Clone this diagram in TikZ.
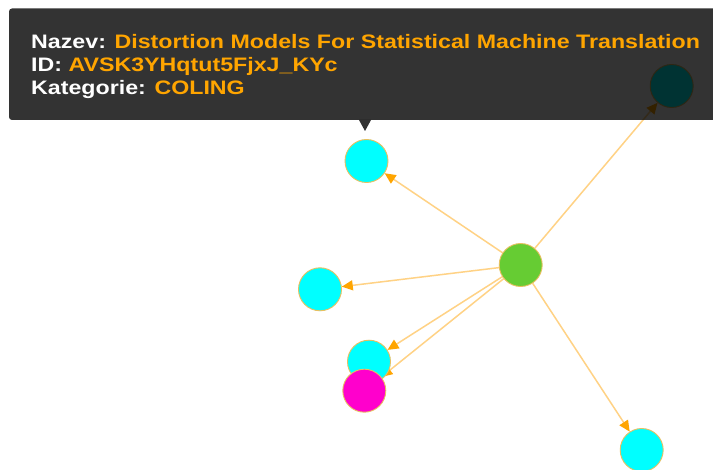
\documentclass[tikz,border=0pt]{standalone}
\usepackage{fontspec}
\setmainfont{Liberation Sans}
\usepackage{graphicx}
\usetikzlibrary{arrows.meta}
\pgfdeclarelayer{background}
\pgfsetlayers{background,main}
\definecolor{edgeline}{HTML}{FFD285}
\definecolor{tipfill}{HTML}{FFA500}
\definecolor{rim}{HTML}{E8C060}
\definecolor{nodecyan}{HTML}{00FFFF}
\definecolor{nodegreen}{HTML}{66CC33}
\definecolor{nodepink}{HTML}{FF00CC}
% widened bold line for the tooltip
\newcommand{\tipline}[1]{\scalebox{1.19}[1]{#1}}
\begin{document}
\begin{tikzpicture}[x=1pt,y=-1pt,
  paper/.style={circle, minimum size=43pt, inner sep=0pt, draw=rim, line width=0.9pt},
  link/.style={draw=edgeline, line width=1.5pt,
    -{Triangle[length=11pt,width=10pt,color=tipfill]}},
  tiptext/.style={anchor=base west, inner sep=0pt, text=white,
    font=\fontsize{19.5}{23}\selectfont\bfseries}
]
\useasboundingbox (0,0) rectangle (713,470);

% graph nodes
\node[paper, fill=nodegreen] (hub) at (520.7,265) {};
\node[paper, fill=nodecyan] (far) at (671.7,86) {};
\node[paper, fill=nodecyan] (top) at (366.5,161) {};
\node[paper, fill=nodecyan] (left) at (320,289.3) {};
\node[paper, fill=nodecyan] (low) at (369,361.7) {};
\node[paper, fill=nodepink] (pink) at (364.3,390.7) {};
\node[paper, fill=nodecyan] (south) at (641.7,450) {};

% connectors, kept below the nodes
\begin{pgfonlayer}{background}
\fill[white] (0,0) rectangle (713,470);
\draw[link] (hub) -- (far);
\draw[link] (hub) -- (top);
\draw[link] (hub) -- (left);
\draw[link] (hub) -- (low);
\draw[link] (hub) -- (pink);
\draw[link] (hub) -- (south);
\end{pgfonlayer}

% tooltip overlay
\fill[black, opacity=0.8, rounded corners=3pt] (9,8.5) rectangle (730,120);
\fill[black, opacity=0.8] (359,120) -- (365,131) -- (371,120) -- cycle;

\node[tiptext] (tipA) at (31,48.3)
  {\tipline{Nazev: \textcolor{tipfill}{Distortion Models For Statistical Machine Translation}}};
\node[tiptext] (tipB) at (31,71.5)
  {\tipline{ID: \textcolor{tipfill}{AVSK3YHqtut5FjxJ\_KYc}}};
\node[tiptext] (tipC) at (31,94.5)
  {\tipline{Kategorie: \textcolor{tipfill}{COLING}}};
\end{tikzpicture}
\end{document}
